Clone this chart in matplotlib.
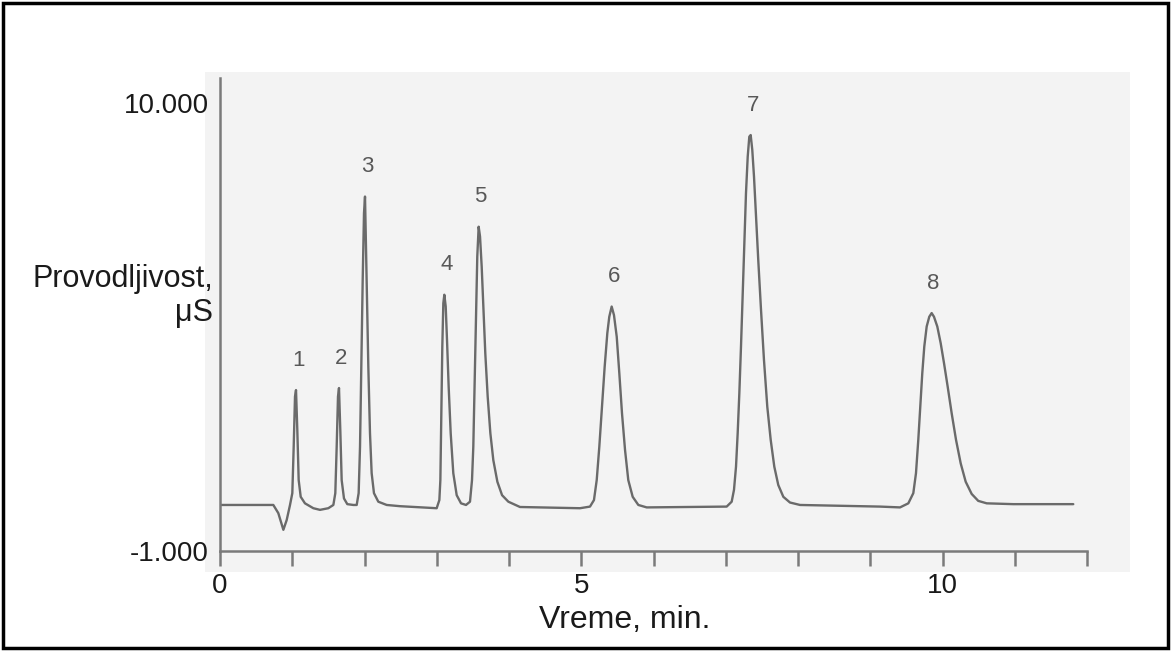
import matplotlib
matplotlib.use("Agg")
import matplotlib.pyplot as plt
from matplotlib.patches import Rectangle

# chromatogram trace (time in min, conductivity)
time_min = [0.0, 0.554, 0.738, 0.807, 0.877, 0.923, 0.969, 1.001, 1.020, 1.038, 1.052,
            1.070, 1.089, 1.117, 1.176, 1.292, 1.384, 1.499, 1.569,
            1.596, 1.615, 1.633, 1.647, 1.665, 1.684, 1.716, 1.762, 1.845,
            1.892, 1.919, 1.938, 1.956, 1.975, 1.993, 2.007, 2.030, 2.053, 2.076,
            2.099, 2.131, 2.191, 2.307, 2.491, 2.999,
            3.036, 3.050, 3.064, 3.077, 3.091, 3.105, 3.124, 3.142, 3.165, 3.193,
            3.229, 3.276, 3.336, 3.405, 3.460,
            3.488, 3.506, 3.525, 3.543, 3.561, 3.580, 3.599, 3.622, 3.645, 3.672,
            3.705, 3.742, 3.783, 3.839, 3.904, 3.991, 4.152,
            4.983, 5.121, 5.176, 5.214, 5.250, 5.287, 5.324, 5.361, 5.388, 5.421,
            5.453, 5.491, 5.527, 5.564, 5.606, 5.651, 5.712, 5.790, 5.906, 7.013,
            7.082, 7.114, 7.142, 7.165, 7.188, 7.211, 7.235, 7.257, 7.280, 7.304,
            7.326, 7.345, 7.367, 7.391, 7.419, 7.450, 7.488, 7.529, 7.575, 7.622,
            7.672, 7.727, 7.797, 7.889, 8.028,
            9.135, 9.412, 9.527, 9.596, 9.633, 9.665, 9.693, 9.720, 9.748, 9.781,
            9.817, 9.850, 9.882, 9.928, 9.975, 10.021, 10.072, 10.127, 10.187, 10.252,
            10.321, 10.404, 10.495, 10.612, 10.980, 11.810]
signal = [0.13, 0.13, 0.13, -0.07, -0.48, -0.24, 0.13, 0.42, 1.56, 2.79, 2.95,
          1.97, 0.74, 0.33, 0.17, 0.05, 0.01, 0.05, 0.13,
          0.42, 1.56, 2.79, 3.00, 1.97, 0.74, 0.29, 0.15, 0.13,
          0.13, 0.42, 1.56, 3.61, 5.65, 7.29, 7.70, 5.65, 3.52, 1.89,
          0.91, 0.42, 0.21, 0.13, 0.10, 0.05,
          0.25, 0.74, 2.38, 4.02, 5.08, 5.29, 5.00, 4.18, 3.03, 1.89,
          0.91, 0.37, 0.17, 0.13, 0.21,
          0.74, 1.56, 3.20, 4.84, 6.23, 6.96, 6.72, 5.98, 5.00, 3.85,
          2.79, 1.89, 1.23, 0.70, 0.37, 0.21, 0.08,
          0.05, 0.09, 0.25, 0.74, 1.56, 2.54, 3.52, 4.35, 4.75, 5.00,
          4.79, 4.26, 3.36, 2.38, 1.48, 0.74, 0.33, 0.13, 0.07, 0.09,
          0.21, 0.50, 1.07, 1.89, 2.87, 4.02, 5.33, 6.55, 7.78, 8.68,
          9.17, 9.21, 8.85, 8.19, 7.21, 6.14, 4.92, 3.69, 2.54, 1.73,
          1.07, 0.62, 0.33, 0.19, 0.13,
          0.09, 0.07, 0.17, 0.42, 0.91, 1.73, 2.54, 3.36, 4.02, 4.51,
          4.75, 4.84, 4.75, 4.51, 4.10, 3.61, 3.03, 2.38, 1.73, 1.15,
          0.70, 0.40, 0.23, 0.17, 0.15, 0.15]

peak_labels = ["1", "2", "3", "4", "5", "6", "7", "8"]
peak_times = [1.052, 1.647, 2.007, 3.105, 3.580, 5.421, 7.345, 9.850]
peak_heights = [2.95, 3.00, 7.70, 5.29, 6.96, 5.00, 9.21, 4.84]

x_ticks = list(range(0, 13))
x_ticklabels = ["0", "", "", "", "", "5", "", "", "", "", "10", "", ""]
y_ticks = [-1, 10]
y_ticklabels = ["-1.000", "10.000"]

plt.rcParams['font.family'] = ['Liberation Sans', 'DejaVu Sans']

W, H = 1171, 651
fig = plt.figure(figsize=(W / 100, H / 100), dpi=100)

# light grey scanned area behind the plot
fig.patches.append(Rectangle((205 / W, 1 - 572 / H), 925 / W, 500 / H,
                             transform=fig.transFigure, facecolor="#f3f3f3",
                             edgecolor="none", zorder=-5))
# black frame round the picture
fig.patches.append(Rectangle((3 / W, 3 / H), 1 - 6 / W, 1 - 6 / H,
                             transform=fig.transFigure, facecolor="none",
                             edgecolor="black", linewidth=2.5, zorder=5))

ax = fig.add_axes([220 / W, 1 - 551 / H, 867 / W, 473 / H])
ax.set_zorder(1)
ax.set_facecolor("none")

ax.plot(time_min, signal, color="#6a6a6a", linewidth=1.7,
        solid_joinstyle="round", solid_capstyle="round")

for lab, t, h in zip(peak_labels, peak_times, peak_heights):
    ax.annotate(lab, (t, h), xytext=(2, 30), textcoords="offset pixels",
                ha="center", va="center", fontsize=16, color="#585858")

ax.set_xlim(0, 12)
ax.set_ylim(-1, 10.61)

for s in ["top", "right"]:
    ax.spines[s].set_visible(False)
for s in ["left", "bottom"]:
    ax.spines[s].set_color("#7a7a7a")
    ax.spines[s].set_linewidth(1.8)

ax.set_xticks(x_ticks)
ax.set_xticklabels(x_ticklabels, fontsize=20, color="#1a1a1a")
ax.tick_params(axis="x", direction="out", length=11, width=1.8, color="#7a7a7a", pad=5)
ax.set_yticks(y_ticks)
ax.set_yticklabels(y_ticklabels, fontsize=20, color="#1a1a1a")
ax.tick_params(axis="y", length=0, pad=8)

fig.text(213 / W, 1 - 296 / H, "Provodljivost,\nμS", ha="right", va="center",
         multialignment="right", fontsize=22, color="#1a1a1a", linespacing=1.15)
fig.text(625 / W, 1 - 620 / H, "Vreme, min.", ha="center", va="center",
         fontsize=23, color="#1a1a1a")

fig.savefig("out.png", dpi=100)
